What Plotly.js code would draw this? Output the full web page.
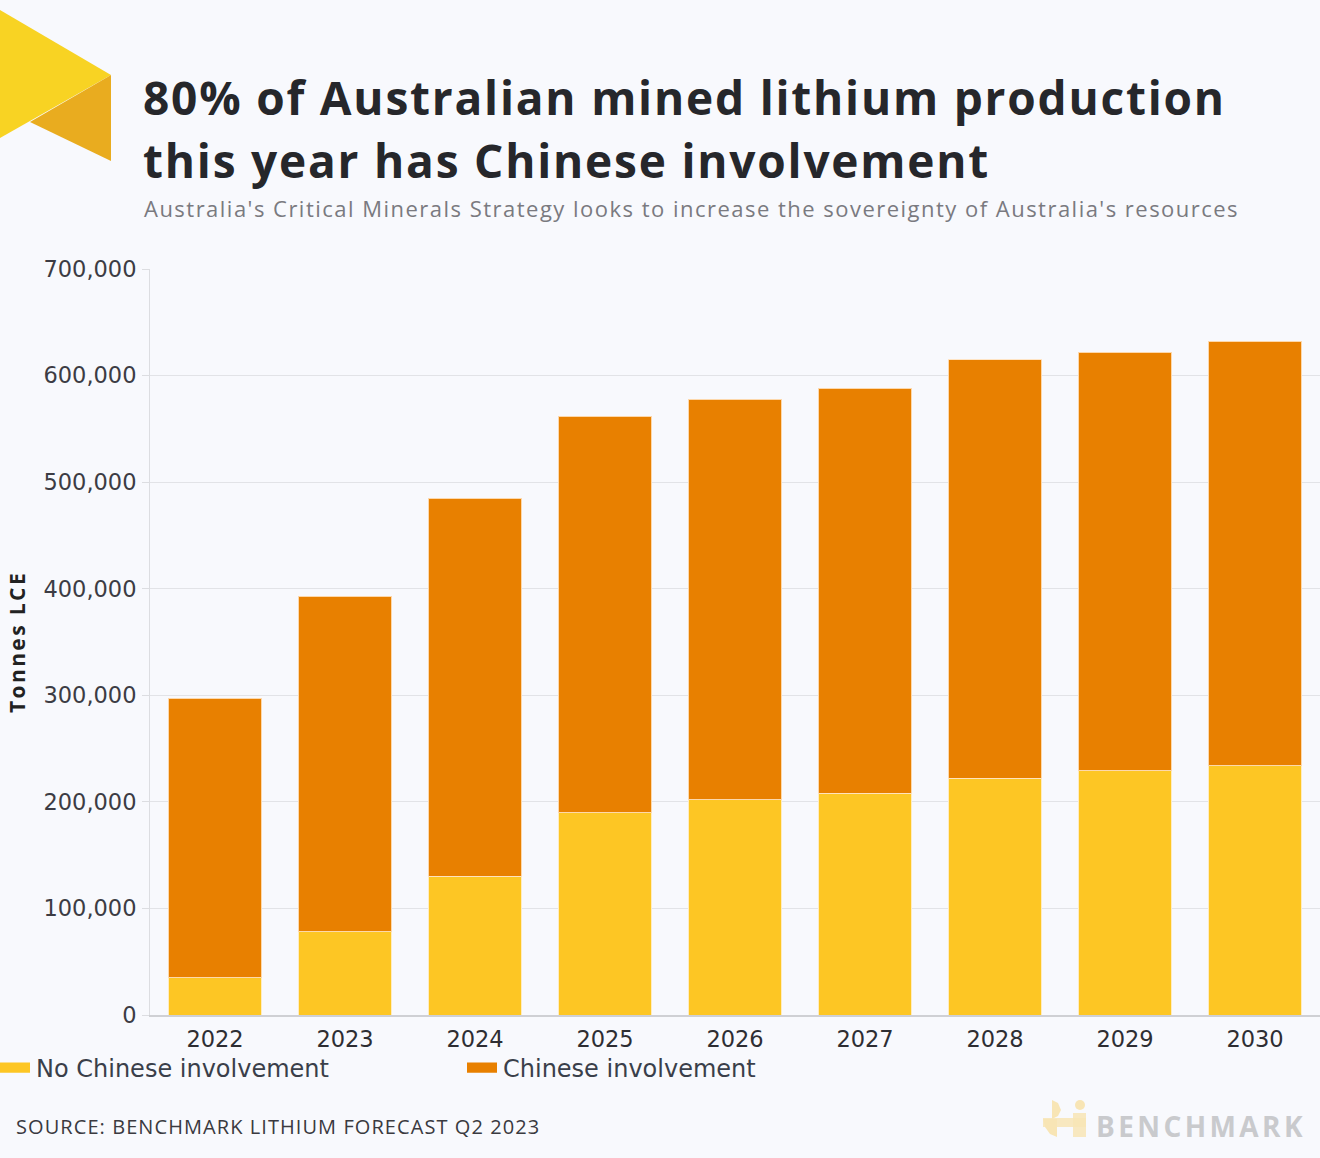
<!DOCTYPE html>
<html>
<head>
<meta charset="utf-8">
<script src="https://cdn.plot.ly/plotly-3.0.1.min.js"></script>
<style>
html,body{margin:0;padding:0;background:#F8F9FD;}
#chart{width:1320px;height:1158px;}
text.annotation-text[style*="font-size: 46px"]{letter-spacing:1.8px;}
text.annotation-text[style*="font-size: 22px"]{letter-spacing:1.48px;}
text.annotation-text[style*="font-size: 20px"]{letter-spacing:1.07px;}
text.annotation-text[style*="font-size: 28px"]{letter-spacing:3.4px;}
.ytitle{letter-spacing:2.4px;}
.legendpoints path{transform:translate(19px,0px) scale(2.5,0.85); stroke-width:0 !important;}
</style>
</head>
<body>
<div id="chart"></div>
<script>
var years = ['2022','2023','2024','2025','2026','2027','2028','2029','2030'];
var noChinese = [35000, 78000, 130000, 190000, 202000, 208000, 222000, 229000, 234000];
var chinese = [262000, 315000, 355000, 372000, 376000, 380000, 393000, 393000, 398000];
var yTickVals = [0, 100000, 200000, 300000, 400000, 500000, 600000, 700000];
var yTickText = ['0', '100,000', '200,000', '300,000', '400,000', '500,000', '600,000', '700,000'];

var W = 1320, H = 1158;
var mL = 150, mR = 0, mT = 269, mB = H - 1015;
var pw = W - mL - mR, ph = H - mT - mB;
function px(x){ return (x - mL) / pw; }
function py(y){ return (H - mB - y) / ph; }
function path(pts){
  return 'M' + pts.map(function(p){ return px(p[0]) + ',' + py(p[1]); }).join(' L') + ' Z';
}

var FONT = 'Open Sans, Noto Sans, sans-serif';
var TFONT = 'DejaVu Sans, Open Sans, sans-serif';

var traces = [
  {type:'bar', name:'No Chinese involvement', x: years, y: noChinese,
   marker:{color:'#FDC624', line:{color:'rgba(255,240,210,0.9)', width:1}}},
  {type:'bar', name:'Chinese involvement', x: years, y: chinese,
   marker:{color:'#E88000', line:{color:'rgba(255,225,190,0.9)', width:1}}}
];

var layout = {
  width: W, height: H,
  paper_bgcolor:'#F8F9FD', plot_bgcolor:'#F8F9FD',
  margin:{l:mL, r:mR, t:mT, b:mB, pad:0, autoexpand:false},
  barmode:'stack', bargap:0.28,
  font:{family:FONT, color:'#444'},
  showlegend:true,
  legend:{orientation:'h', x:px(-4), xanchor:'left', y:py(1068), yanchor:'middle',
    font:{size:24, color:'#3a3f4a', family:TFONT}, entrywidth:422, entrywidthmode:'pixels',
    bgcolor:'rgba(0,0,0,0)', traceorder:'normal', itemwidth:30},
  xaxis:{type:'category', showgrid:false, showline:true, linecolor:'#cfd0d4', linewidth:1.5,
    ticks:'', tickfont:{size:22.5, color:'#2e2e33', family:TFONT}, fixedrange:true, ticklabelstandoff:3},
  yaxis:{range:[0,700000], tickvals:yTickVals, ticktext:yTickText, showgrid:true, gridcolor:'#e2e3e7', gridwidth:1,
    showline:true, linecolor:'#dcdde1', linewidth:1, ticks:'outside', ticklen:7, tickcolor:'#dcdde1',
    tickfont:{size:22.5, color:'#3c3c44', family:TFONT}, zeroline:false, ticklabelstandoff:1,
    title:{text:'<b>Tonnes LCE</b>', font:{size:21, color:'#222', family:FONT}, standoff:12}},
  shapes:[
    {type:'path', xref:'paper', yref:'paper', path: path([[0,10],[111,75],[0,138]]), fillcolor:'#F8D323', line:{width:0}, layer:'above'},
    {type:'path', xref:'paper', yref:'paper', path: path([[111,75],[111,161],[30,122]]), fillcolor:'#E9AC1F', line:{width:0}, layer:'above'},
    {type:'circle', xref:'paper', yref:'paper', x0:px(1075), x1:px(1085), y0:py(1110), y1:py(1100), fillcolor:'#F8E5B5', line:{width:0}},
    {type:'path', xref:'paper', yref:'paper', path: path([[1052,1100],[1058,1103],[1061,1110],[1058,1116],[1052,1119]]), fillcolor:'#F8E5B5', line:{width:0}},
    {type:'path', xref:'paper', yref:'paper', path: path([[1043,1119],[1057,1119],[1057,1137],[1050,1134],[1045,1127]]), fillcolor:'#F8E5B5', line:{width:0}},
    {type:'rect', xref:'paper', yref:'paper', x0:px(1043), x1:px(1086), y0:py(1127), y1:py(1118), fillcolor:'#F8E5B5', line:{width:0}, opacity:0.85},
    {type:'rect', xref:'paper', yref:'paper', x0:px(1073), x1:px(1086), y0:py(1137), y1:py(1113), fillcolor:'#F8E5B5', line:{width:0}, opacity:0.85}
  ],
  annotations:[
    {xref:'paper', yref:'paper', x:px(141), y:py(97), xanchor:'left', yanchor:'middle', showarrow:false,
     text:'<b>80% of Australian mined lithium production</b>', font:{size:46, color:'#26272b', family:FONT}},
    {xref:'paper', yref:'paper', x:px(141), y:py(160), xanchor:'left', yanchor:'middle', showarrow:false,
     text:'<b>this year has Chinese involvement</b>', font:{size:46, color:'#26272b', family:FONT}},
    {xref:'paper', yref:'paper', x:px(142), y:py(208), xanchor:'left', yanchor:'middle', showarrow:false,
     text:"Australia's Critical Minerals Strategy looks to increase the sovereignty of Australia's resources", font:{size:22, color:'#7a7a80', family:FONT}},
    {xref:'paper', yref:'paper', x:px(14), y:py(1126), xanchor:'left', yanchor:'middle', showarrow:false,
     text:'SOURCE: BENCHMARK LITHIUM FORECAST Q2 2023', font:{size:20, color:'#3a3a40', family:FONT}},
    {xref:'paper', yref:'paper', x:px(1308), y:py(1126), xanchor:'right', yanchor:'middle', showarrow:false,
     text:'<b>BENCHMARK</b>', font:{size:28, color:'#c9cacd', family:FONT}}
  ]
};

Plotly.newPlot('chart', traces, layout, {displayModeBar:false, staticPlot:true});
</script>
</body>
</html>
